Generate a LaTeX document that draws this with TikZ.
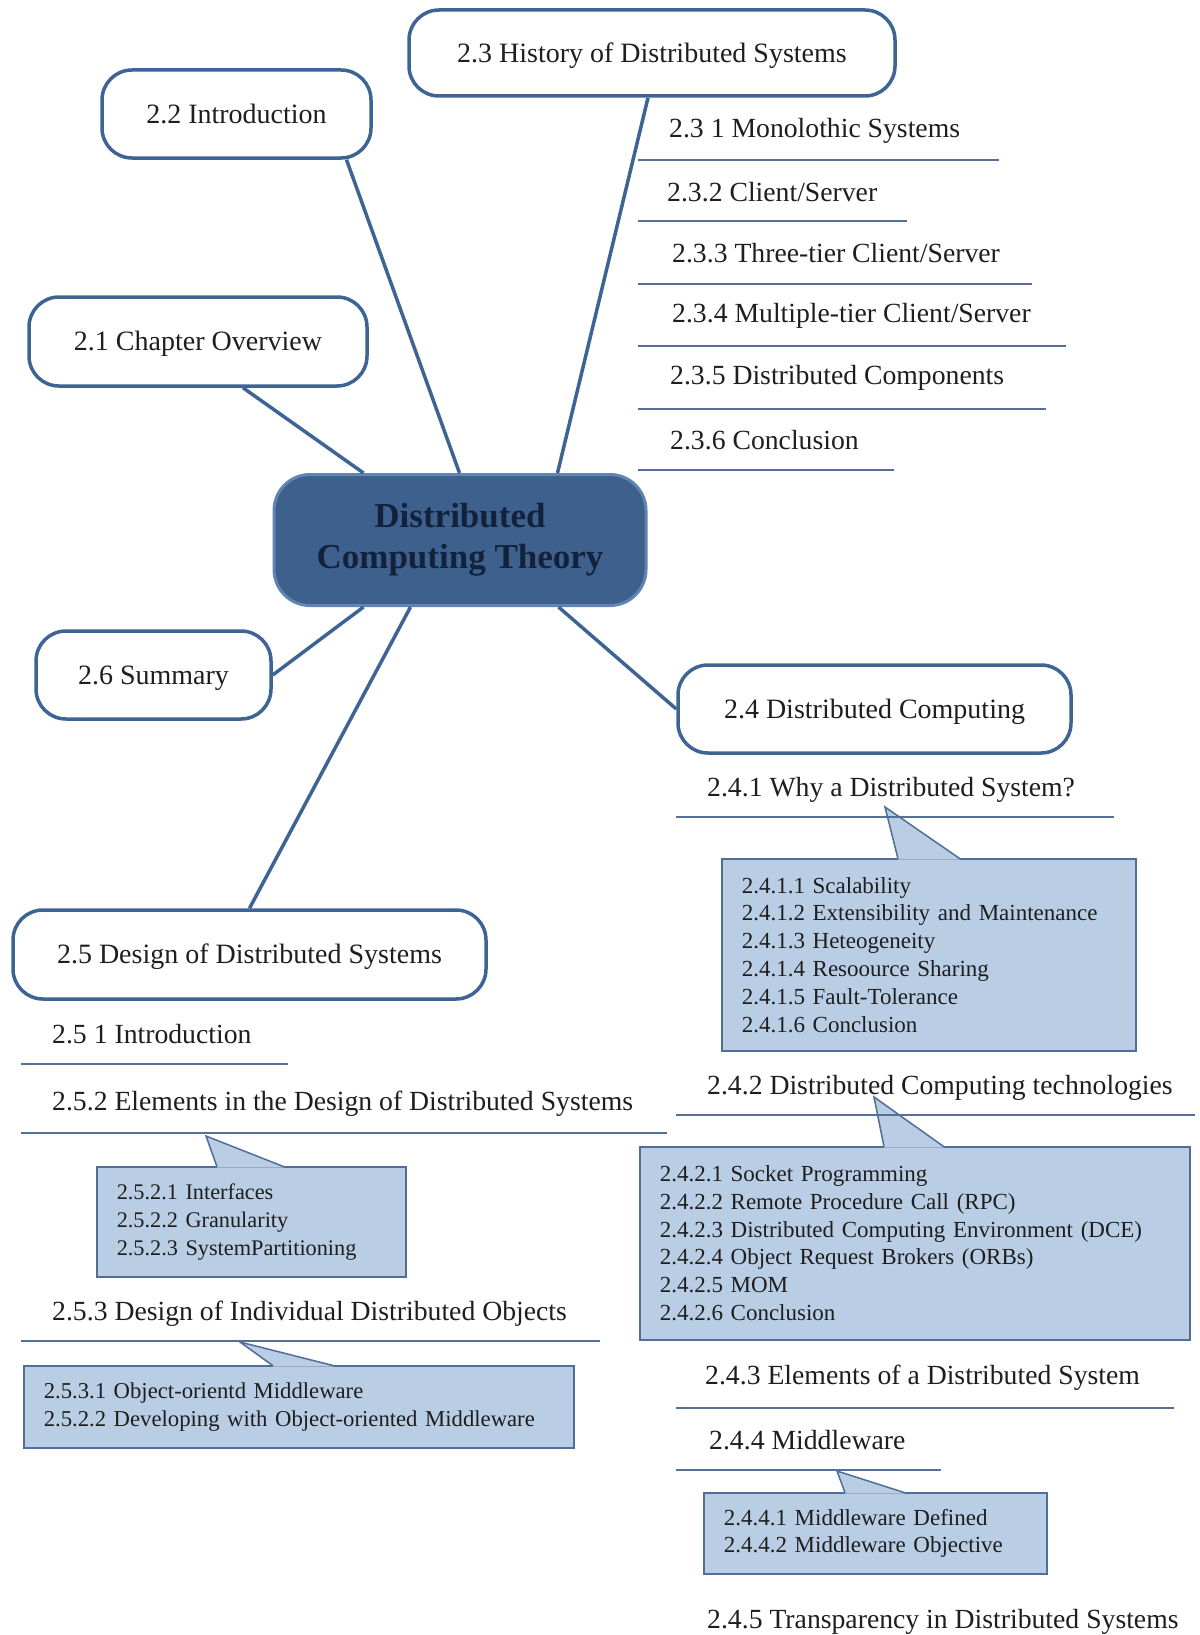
\documentclass[tikz,border=0pt]{standalone}
\usepackage{fontspec}
\setmainfont{Liberation Serif}
\usetikzlibrary{calc}
\definecolor{edge}{RGB}{62,100,148}
\definecolor{lineblue}{RGB}{84,112,150}
\definecolor{calfill}{RGB}{185,205,228}
\definecolor{calborder}{RGB}{80,110,152}
\definecolor{txt}{RGB}{30,30,30}
\definecolor{cfill}{RGB}{62,96,141}
\definecolor{cborder}{RGB}{98,132,178}
\definecolor{ctext}{RGB}{18,34,60}
\tikzset{
  topic/.style={draw=edge, line width=3.5pt, rounded corners=30pt, fill=white,
    font=\fontsize{28}{33}\selectfont, text=txt, text height=18.5pt, text depth=0pt, inner sep=0pt},
  sub/.style={anchor=base west, font=\fontsize{27.7}{33}\selectfont, text=txt, inner sep=0pt},
  uline/.style={draw=lineblue, line width=1.5pt},
  calbox/.style={draw=calborder, fill=calfill, line width=1.5pt, align=left, inner xsep=20pt,
    inner ysep=0pt, font=\fontsize{23}{27.8}\selectfont, anchor=north west, text=txt},
  ptr/.style={draw=calborder, line width=1.5pt},
  conn/.style={draw=edge, line width=3.5pt}
}
\begin{document}
\begin{tikzpicture}[x=1pt,y=-1pt]
\useasboundingbox (0,0) rectangle (1199,1635);
\fill[white] (0,0) rectangle (1199,1635);

% central node
\node[draw=cborder, fill=cfill, line width=3pt, rounded corners=36pt, minimum width=372pt,
  minimum height=131pt, align=center, text=ctext, inner sep=0pt,
  font=\fontsize{35}{41}\selectfont\bfseries] (c) at (460,540) {Distributed\\Computing Theory};

% topic nodes
\node[topic, minimum width=486pt, minimum height=86pt] (hist) at (652,53) {2.3 History of Distributed Systems};
\node[topic, minimum width=269pt, minimum height=88pt] (intro) at (236.5,114) {2.2 Introduction};
\node[topic, minimum width=338pt, minimum height=89pt] (ov) at (198,341.5) {2.1 Chapter Overview};
\node[topic, minimum width=235pt, minimum height=88pt] (summ) at (153.5,675) {2.6 Summary};
\node[topic, minimum width=393pt, minimum height=88pt] (dc) at (874.5,709) {2.4 Distributed Computing};
\node[topic, minimum width=473pt, minimum height=89pt] (des) at (249.5,954.5) {2.5 Design of Distributed Systems};

% connectors
\draw[conn] ($(ov.south)+(45,0)$) -- ($(c.north west)+(91,0)$);
\draw[conn] ($(intro.south)+(110,0)$) -- ($(c.north west)+(187,0)$);
\draw[conn] ($(hist.south)+(-4,0)$) -- ($(c.north west)+(285,0)$);
\draw[conn] (summ.east) -- ($(c.south west)+(91,0)$);
\draw[conn] (des.north) -- ($(c.south west)+(138,0)$);
\draw[conn] (dc.west) -- ($(c.south west)+(286,0)$);

% 2.3 subtopics
\node[sub] (h1) at (669,138) {2.3 1 Monolothic Systems};
\node[sub] (h2) at (667,201) {2.3.2 Client/Server};
\node[sub] (h3) at (672,262) {2.3.3 Three-tier Client/Server};
\node[sub] (h4) at (672,322) {2.3.4 Multiple-tier Client/Server};
\node[sub] (h5) at (670,384) {2.3.5 Distributed Components};
\node[sub] (h6) at (670,449) {2.3.6 Conclusion};
\draw[uline] (638,160) -- (999,160);
\draw[uline] (638,221) -- (907,221);
\draw[uline] (638,284) -- (1032,284);
\draw[uline] (638,346) -- (1066,346);
\draw[uline] (638,409) -- (1046,409);
\draw[uline] (638,470) -- (894,470);

% 2.4 subtopics
\node[sub] (d1) at (707,796) {2.4.1 Why a Distributed System?};
\node[sub] (d2) at (707,1094) {2.4.2 Distributed Computing technologies};
\node[sub] (d3) at (705,1384) {2.4.3 Elements of a Distributed System};
\node[sub] (d4) at (709,1449) {2.4.4 Middleware};
\node[sub] (d5) at (707,1628) {2.4.5 Transparency in Distributed Systems};

% callout 2.4.1
\node[calbox, text width=374pt, minimum height=192pt] (cb1) at (721,858)
  {2.4.1.1 Scalability\\2.4.1.2 Extensibility and Maintenance\\2.4.1.3 Heteogeneity\\2.4.1.4 Resoource Sharing\\2.4.1.5 Fault-Tolerance\\2.4.1.6 Conclusion};
\fill[calfill] (898,859.5) -- (885,807) -- (960,859.5) -- cycle;
\draw[ptr] (898,858.75) -- (885,807) -- (960,858.75);

% callout 2.4.2
\node[calbox, text width=510pt, minimum height=193pt] (cb2) at (639,1146)
  {2.4.2.1 Socket Programming\\2.4.2.2 Remote Procedure Call (RPC)\\2.4.2.3 Distributed Computing Environment (DCE)\\2.4.2.4 Object Request Brokers (ORBs)\\2.4.2.5 MOM\\2.4.2.6 Conclusion};
\fill[calfill] (884,1147.5) -- (874,1097) -- (944,1147.5) -- cycle;
\draw[ptr] (884,1146.75) -- (874,1097) -- (944,1146.75);

% callout 2.4.4
\node[calbox, text width=303pt, minimum height=81pt] (cb4) at (703,1492)
  {2.4.4.1 Middleware Defined\\2.4.4.2 Middleware Objective};
\fill[calfill] (845,1493.5) -- (837,1471) -- (905,1493.5) -- cycle;
\draw[ptr] (845,1492.75) -- (837,1471) -- (905,1492.75);

\draw[uline] (676,817) -- (1114,817);
\draw[uline] (676,1115) -- (1195,1115);
\draw[uline] (676,1408) -- (1174,1408);
\draw[uline] (676,1470) -- (941,1470);

% 2.5 subtopics
\node[sub] (e1) at (52,1043) {2.5 1 Introduction};
\node[sub] (e2) at (52,1110) {2.5.2 Elements in the Design of Distributed Systems};
\node[sub] (e3) at (52,1320) {2.5.3 Design of Individual Distributed Objects};

% callout 2.5.2
\node[calbox, text width=269pt, minimum height=110pt, font=\fontsize{22.3}{27.8}\selectfont] (cb52) at (96,1166)
  {2.5.2.1 Interfaces\\2.5.2.2 Granularity\\2.5.2.3 SystemPartitioning};
\fill[calfill] (217,1167.5) -- (206,1136) -- (284,1167.5) -- cycle;
\draw[ptr] (217,1166.75) -- (206,1136) -- (284,1166.75);

% callout 2.5.3
\node[calbox, text width=510pt, minimum height=82pt, font=\fontsize{22.7}{27.8}\selectfont] (cb53) at (23,1365)
  {2.5.3.1 Object-orientd Middleware\\2.5.2.2 Developing with Object-oriented Middleware};
\fill[calfill] (273,1366.5) -- (240,1342) -- (334,1366.5) -- cycle;
\draw[ptr] (273,1365.75) -- (240,1342) -- (334,1365.75);

\draw[uline] (21,1064) -- (288,1064);
\draw[uline] (21,1133) -- (667,1133);
\draw[uline] (21,1341) -- (600,1341);
\end{tikzpicture}
\end{document}
